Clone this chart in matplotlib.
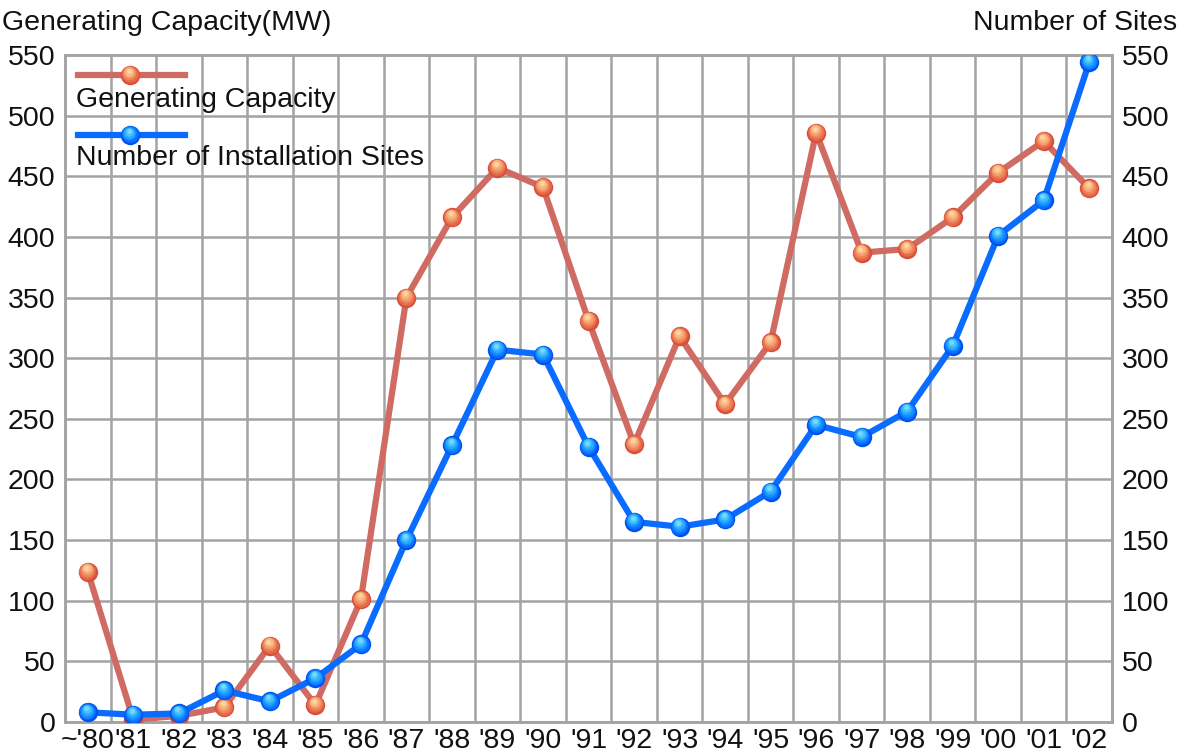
import matplotlib
matplotlib.use("Agg")
import matplotlib.pyplot as plt
from matplotlib.patches import Rectangle
from matplotlib.lines import Line2D
from matplotlib.transforms import offset_copy
import numpy as np

years = ["~'80", "'81", "'82", "'83", "'84", "'85", "'86", "'87", "'88", "'89", "'90",
         "'91", "'92", "'93", "'94", "'95", "'96", "'97", "'98", "'99", "'00", "'01", "'02"]
capacity = [124, 2, 5, 12, 63, 14, 101, 350, 416, 457, 441,
            331, 229, 318, 262, 313, 486, 387, 390, 416, 453, 479, 440]
sites = [8, 6, 7, 26, 17, 36, 64, 150, 228, 307, 303,
         227, 165, 161, 167, 190, 245, 235, 256, 310, 401, 430, 544]
yticks = [0, 50, 100, 150, 200, 250, 300, 350, 400, 450, 500, 550]

plt.rcParams['font.family'] = ['Liberation Sans', 'DejaVu Sans']

RED_LINE = '#cf6b62'
RED_GRAD = ['#d9503a', '#e5694a', '#ee845a', '#f5a06e', '#f9bb86', '#fcd3a2']
BLUE_LINE = '#0a6cff'
BLUE_GRAD = ['#0052ec', '#0a70ff', '#168eff', '#27aaff', '#46c2ff', '#7ad6ff']
GRID = '#a3a3a3'
FS = 20.5

fig = plt.figure(figsize=(11.84, 7.53), dpi=100)
ax = fig.add_axes([0.0549, 0.0412, 0.8843, 0.8858])
ax2 = ax.twinx()

x = np.arange(len(years))
ax.set_xlim(-0.5, len(years) - 0.5)
ax.set_ylim(0, 550)
ax2.set_ylim(0, 550)

ax.set_xticks(x)
ax.set_xticklabels(years)
ax.set_xticks(np.arange(-0.5, len(years), 1.0), minor=True)
ax.set_yticks(yticks)
ax2.set_yticks(yticks)
ax.tick_params(axis='both', which='both', length=0, labelsize=FS, colors='#111111')
ax.tick_params(axis='y', pad=7)
ax.tick_params(axis='x', pad=4)
ax2.tick_params(axis='y', length=0, labelsize=FS, colors='#111111', pad=7)

ax.grid(True, which='minor', axis='x', color=GRID, lw=1.8, zorder=0)
ax.grid(True, which='major', axis='y', color=GRID, lw=1.8, zorder=0)
ax.grid(False, which='major', axis='x')
for a in (ax, ax2):
    for s in a.spines.values():
        s.set_color(GRID)
        s.set_linewidth(1.8)

# legend background (white box covering grid)
ax.add_patch(Rectangle((0, 0.818), 0.344, 0.182, transform=ax.transAxes,
                       facecolor='white', edgecolor='none', zorder=1.5))

sizes = [14, 12, 10, 8, 6, 3.5]
offs = [(0, 0), (-0.2, 0.6), (-0.4, 1.2), (-0.6, 1.8), (-0.8, 2.4), (-1.0, 2.9)]


def gradient_markers(xs, ys, grad, base_tr, z):
    for s, c, (dx, dy) in zip(sizes, grad, offs):
        tr = offset_copy(base_tr, fig=fig, x=dx, y=dy, units='points')
        ax.plot(xs, ys, ls='none', marker='o', ms=s, mfc=c, mec='none', transform=tr, zorder=z)


# series
ax.plot(x, capacity, color=RED_LINE, lw=4.5, zorder=3)
gradient_markers(x, capacity, RED_GRAD, ax.transData, 4)
ax.plot(x, sites, color=BLUE_LINE, lw=4.5, zorder=3)
gradient_markers(x, sites, BLUE_GRAD, ax.transData, 4)


# custom legend
def legend_entry(yline, ytext, lc, grad, label):
    ax.add_line(Line2D([0.0124, 0.1146], [yline, yline], transform=ax.transAxes,
                       color=lc, lw=4.5, zorder=6))
    gradient_markers([0.062], [yline], grad, ax.transAxes, 7)
    ax.text(0.0105, ytext, label, transform=ax.transAxes, fontsize=FS,
            ha='left', va='center', color='#111111', zorder=9)


legend_entry(0.970, 0.932, RED_LINE, RED_GRAD, 'Generating Capacity')
legend_entry(0.880, 0.846, BLUE_LINE, BLUE_GRAD, 'Number of Installation Sites')

ax2.set_zorder(ax.get_zorder() - 1)
ax.patch.set_visible(False)

fig.text(0.002, 0.970, 'Generating Capacity(MW)', fontsize=FS, ha='left', va='center', color='#111111')
fig.text(0.994, 0.970, 'Number of Sites', fontsize=FS, ha='right', va='center', color='#111111')

fig.savefig('out.png', dpi=100, facecolor='white')
